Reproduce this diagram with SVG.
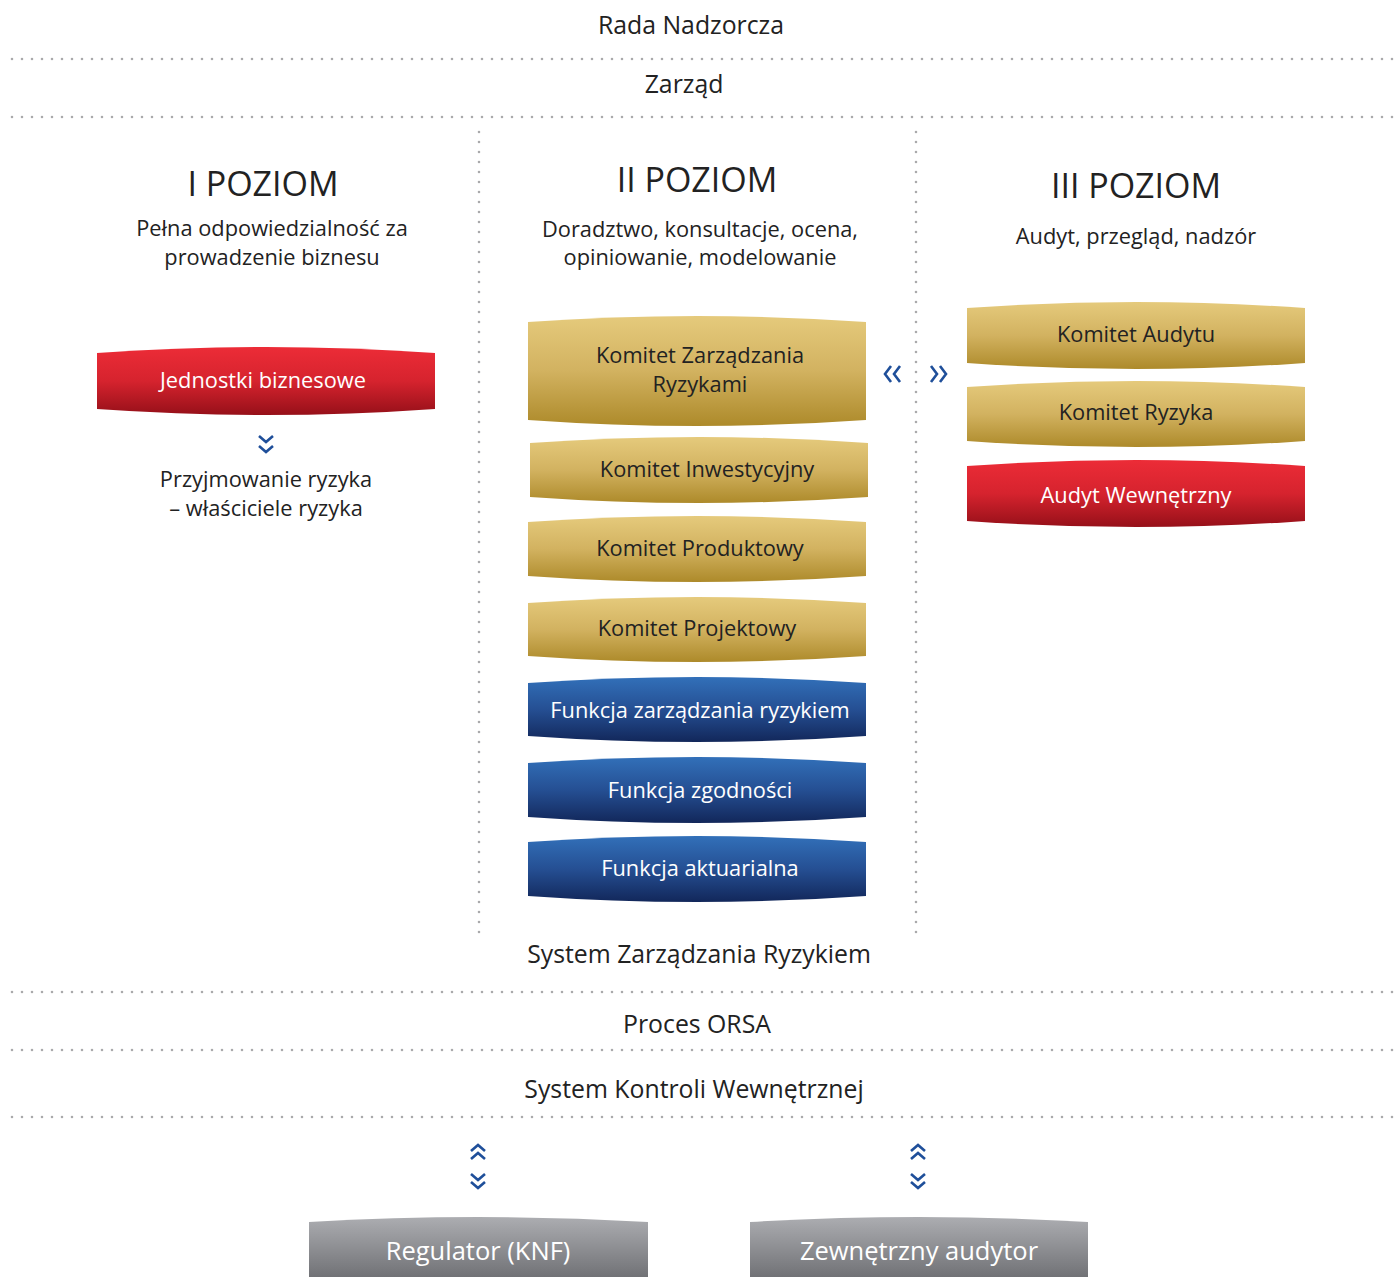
<svg xmlns="http://www.w3.org/2000/svg" width="1399" height="1277" viewBox="0 0 1399 1277">
<style>
.t{font-family:"Open Sans","Noto Sans",sans-serif;fill:#222;text-anchor:middle}
.h{font-size:34px}
.s{font-size:21.8px}
.l{font-size:24.8px}
.b{font-size:21.8px;font-family:"Open Sans","Noto Sans",sans-serif;text-anchor:middle}
.dk{fill:#222}
.wt{fill:#fff}
.dot{stroke:#a9a9ab;stroke-width:2.6;stroke-dasharray:0 10;stroke-linecap:round;fill:none}
.chev{stroke:#1f4f9a;stroke-width:2.6;fill:none;stroke-linejoin:miter}
</style>
<defs>
<linearGradient id="gold" x1="0" y1="0" x2="0" y2="1"><stop offset="0" stop-color="#e5ca7c"/><stop offset="0.5" stop-color="#d2b260"/><stop offset="1" stop-color="#ad8a2a"/></linearGradient>
<linearGradient id="red" x1="0" y1="0" x2="0" y2="1"><stop offset="0" stop-color="#ec2c37"/><stop offset="0.5" stop-color="#d6232e"/><stop offset="1" stop-color="#961019"/></linearGradient>
<linearGradient id="blue" x1="0" y1="0" x2="0" y2="1"><stop offset="0" stop-color="#3270b9"/><stop offset="0.5" stop-color="#254f93"/><stop offset="1" stop-color="#12275a"/></linearGradient>
<linearGradient id="gray" x1="0" y1="0" x2="0" y2="1"><stop offset="0" stop-color="#acadb1"/><stop offset="1" stop-color="#717276"/></linearGradient>
</defs>

<g id="lines">
<line class="dot" x1="12" y1="59" x2="1393" y2="59"/>
<line class="dot" x1="12" y1="117" x2="1393" y2="117"/>
<line class="dot" x1="12" y1="992" x2="1393" y2="992"/>
<line class="dot" x1="12" y1="1050" x2="1393" y2="1050"/>
<line class="dot" x1="12" y1="1117" x2="1393" y2="1117"/>
<line class="dot" x1="479" y1="132" x2="479" y2="942"/>
<line class="dot" x1="916" y1="132" x2="916" y2="942"/>
</g>

<g id="headers">
<text class="t l" x="691" y="34">Rada Nadzorcza</text>
<text class="t l" x="684" y="93">Zarząd</text>
<text class="t h" x="263" y="196">I POZIOM</text>
<text class="t s" x="272" y="236">Pełna odpowiedzialność za</text>
<text class="t s" x="272" y="265">prowadzenie biznesu</text>
<text class="t h" x="697" y="192">II POZIOM</text>
<text class="t s" x="700" y="237">Doradztwo, konsultacje, ocena,</text>
<text class="t s" x="700" y="265">opiniowanie, modelowanie</text>
<text class="t h" x="1136" y="198">III POZIOM</text>
<text class="t s" x="1136" y="244">Audyt, przegląd, nadzór</text>
<text class="t s" x="266" y="487">Przyjmowanie ryzyka</text>
<text class="t s" x="266" y="516">– właściciele ryzyka</text>
<text class="t l" x="699" y="963">System Zarządzania Ryzykiem</text>
<text class="t l" x="697" y="1033">Proces ORSA</text>
<text class="t l" x="694" y="1098">System Kontroli Wewnętrznej</text>
</g>

<g id="node-jednostki">
<path d="M97,353 Q266,341 435,353 L435,409 Q266,421 97,409 Z" fill="url(#red)"/>
<text class="b wt" x="263" y="388">Jednostki biznesowe</text>
</g>
<g id="node-kzr">
<path d="M528,322 Q697,310 866,322 L866,420 Q697,432 528,420 Z" fill="url(#gold)"/>
<text class="b dk" x="700" y="363">Komitet Zarządzania</text>
<text class="b dk" x="700" y="392">Ryzykami</text>
</g>
<g id="node-inw">
<path d="M530,443 Q699,431 868,443 L868,497 Q699,509 530,497 Z" fill="url(#gold)"/>
<text class="b dk" x="707" y="477">Komitet Inwestycyjny</text>
</g>
<g id="node-prod">
<path d="M528,522 Q697,510 866,522 L866,576 Q697,588 528,576 Z" fill="url(#gold)"/>
<text class="b dk" x="700" y="556">Komitet Produktowy</text>
</g>
<g id="node-proj">
<path d="M528,603 Q697,591 866,603 L866,656 Q697,668 528,656 Z" fill="url(#gold)"/>
<text class="b dk" x="697" y="636">Komitet Projektowy</text>
</g>
<g id="node-fzr">
<path d="M528,683 Q697,671 866,683 L866,736 Q697,748 528,736 Z" fill="url(#blue)"/>
<text class="b wt" x="700" y="718">Funkcja zarządzania ryzykiem</text>
</g>
<g id="node-fzg">
<path d="M528,763 Q697,751 866,763 L866,817 Q697,829 528,817 Z" fill="url(#blue)"/>
<text class="b wt" x="700" y="798">Funkcja zgodności</text>
</g>
<g id="node-fak">
<path d="M528,842 Q697,830 866,842 L866,896 Q697,908 528,896 Z" fill="url(#blue)"/>
<text class="b wt" x="700" y="876">Funkcja aktuarialna</text>
</g>
<g id="node-kau">
<path d="M967,308 Q1136,296 1305,308 L1305,363 Q1136,375 967,363 Z" fill="url(#gold)"/>
<text class="b dk" x="1136" y="342">Komitet Audytu</text>
</g>
<g id="node-kry">
<path d="M967,387 Q1136,375 1305,387 L1305,441 Q1136,453 967,441 Z" fill="url(#gold)"/>
<text class="b dk" x="1136" y="420">Komitet Ryzyka</text>
</g>
<g id="node-awe">
<path d="M967,466 Q1136,454 1305,466 L1305,521 Q1136,533 967,521 Z" fill="url(#red)"/>
<text class="b wt" x="1136" y="503">Audyt Wewnętrzny</text>
</g>
<g id="node-knf">
<path d="M309,1222 Q478,1212 648,1222 L648,1277 L309,1277 Z" fill="url(#gray)"/>
<text class="b wt" x="478" y="1260" style="font-size:25.5px">Regulator (KNF)</text>
</g>
<g id="node-zew">
<path d="M750,1222 Q919,1212 1088,1222 L1088,1277 L750,1277 Z" fill="url(#gray)"/>
<text class="b wt" x="919" y="1260" style="font-size:25.5px">Zewnętrzny audytor</text>
</g>

<g id="connectors">
<polyline class="chev" points="259,436 266,442 273,436"/>
<polyline class="chev" points="259,446 266,452 273,446"/>
<polyline class="chev" points="891,366 885,374 891,382"/>
<polyline class="chev" points="900,366 894,374 900,382"/>
<polyline class="chev" points="931,366 937,374 931,382"/>
<polyline class="chev" points="940,366 946,374 940,382"/>
<polyline class="chev" points="471,1151 478,1145 485,1151"/>
<polyline class="chev" points="471,1159 478,1153 485,1159"/>
<polyline class="chev" points="471,1174 478,1180 485,1174"/>
<polyline class="chev" points="471,1182 478,1188 485,1182"/>
<polyline class="chev" points="911,1151 918,1145 925,1151"/>
<polyline class="chev" points="911,1159 918,1153 925,1159"/>
<polyline class="chev" points="911,1174 918,1180 925,1174"/>
<polyline class="chev" points="911,1182 918,1188 925,1182"/>
</g>
</svg>
